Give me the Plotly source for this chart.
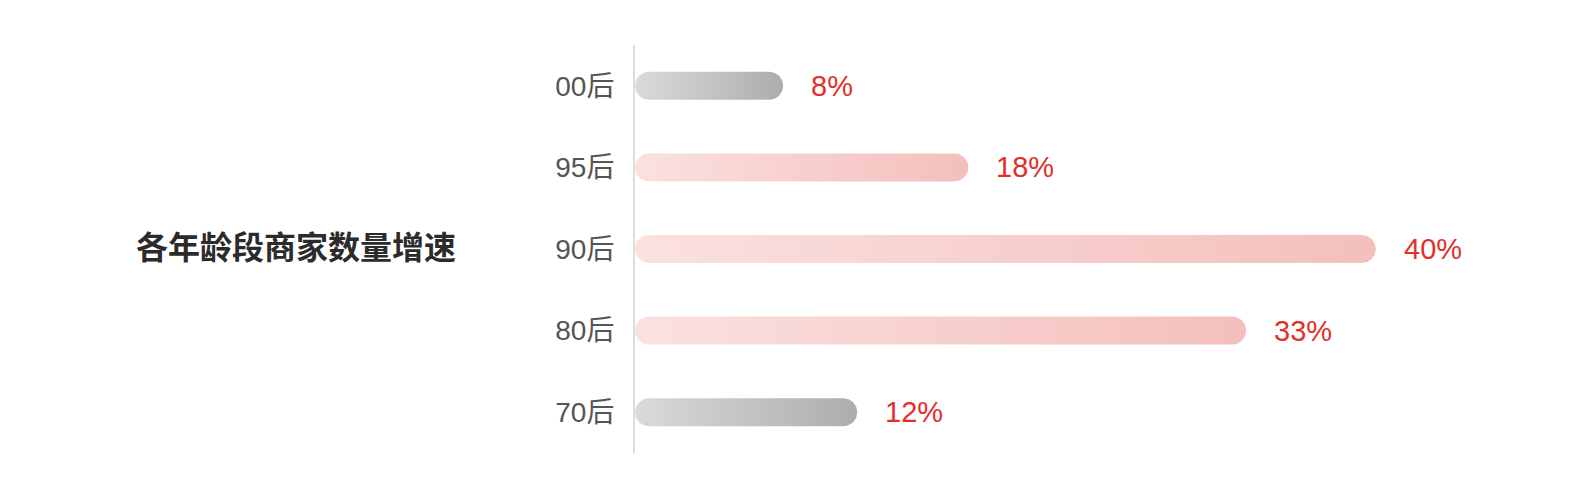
import numpy as np
import plotly.graph_objects as go

# data
categories = ["00后", "95后", "90后", "80后", "70后"]
growth = [8, 18, 40, 33, 12]
highlight = [False, True, True, True, False]
title_text = "各年龄段商家数量增速"

# page has an 8px body margin, so the figure is sized to fit inside it
W, H = 1573, 471
M_L, M_R, M_T, M_B = 627, 20, 37, 26
X_MAX = 50
BAR_PX = 28
FONT = "Liberation Sans, Noto Sans CJK SC"

plot_w = W - M_L - M_R
plot_h = H - M_T - M_B
px_x = plot_w / X_MAX
px_y = plot_h / len(categories)
rx = (BAR_PX / 2) / px_x
ry = (BAR_PX / 2) / px_y


def pill(v, yc):
    # rounded-end bar outline in data units
    t = np.linspace(-np.pi / 2, np.pi / 2, 40)
    right_x = (v - rx) + rx * np.cos(t)
    right_y = yc + ry * np.sin(t)
    left_x = rx - rx * np.cos(t)
    left_y = yc - ry * np.sin(t)
    xs = np.concatenate([right_x, left_x, right_x[:1]])
    ys = np.concatenate([right_y, left_y, right_y[:1]])
    return xs, ys


fig = go.Figure()
for i, (cat, v, hl) in enumerate(zip(categories, growth, highlight)):
    xs, ys = pill(v, i)
    if hl:
        scale = [[0, "#fae1e0"], [1, "#f4bfbc"]]
    else:
        scale = [[0, "#dadada"], [1, "#adadad"]]
    fig.add_trace(go.Scatter(
        x=xs, y=ys, mode="lines", fill="toself",
        line=dict(width=0, color="rgba(0,0,0,0)"),
        fillgradient=dict(type="horizontal", colorscale=scale),
        hoverinfo="skip", showlegend=False, name=cat,
    ))
    fig.add_annotation(
        x=v, y=i, text=f"{v}%", showarrow=False,
        xanchor="left", xshift=26,
        font=dict(size=29, color="#e1302a", family=FONT),
    )

fig.add_annotation(
    xref="paper", yref="paper",
    x=(288 - M_L) / plot_w, y=0.503,
    text=f"<b>{title_text}</b>", showarrow=False,
    xanchor="center", yanchor="middle",
    font=dict(size=32, color="#2b2b2b", family=FONT),
)

fig.update_layout(
    width=W, height=H,
    margin=dict(l=M_L, r=M_R, t=M_T, b=M_B),
    plot_bgcolor="white", paper_bgcolor="white",
    xaxis=dict(range=[0, X_MAX], visible=False, fixedrange=True),
    yaxis=dict(
        range=[len(categories) - 0.5, -0.5],
        tickvals=list(range(len(categories))),
        ticktext=categories,
        showgrid=False, zeroline=False,
        showline=True, linecolor="#dcdcdc", linewidth=2,
        ticks="", ticklabelstandoff=13,
        tickfont=dict(size=28, color="#555555", family=FONT),
        fixedrange=True,
    ),
    font=dict(family=FONT),
)

fig.write_html("out.html")
